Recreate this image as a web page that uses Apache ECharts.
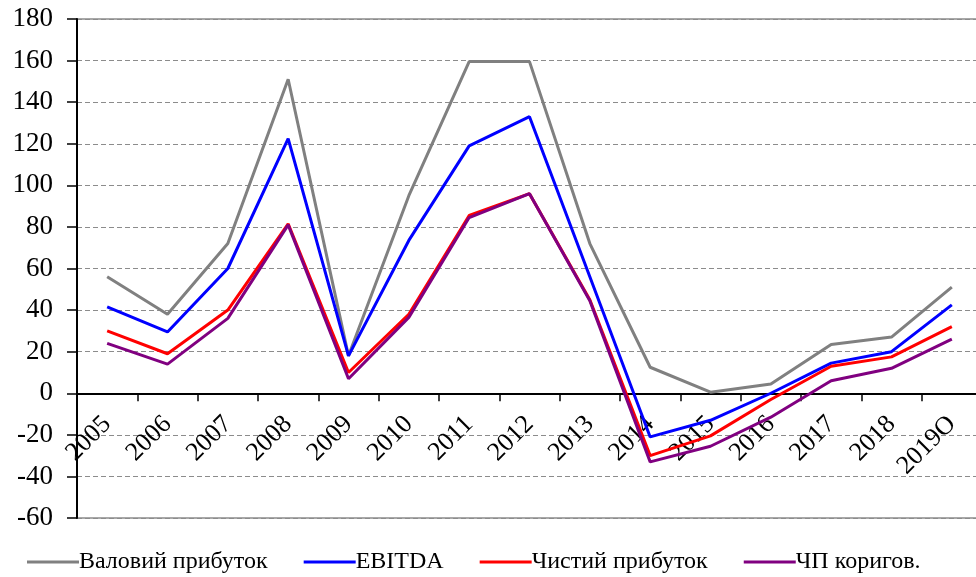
<!DOCTYPE html>
<html>
<head>
<meta charset="utf-8">
<script src="https://cdn.jsdelivr.net/npm/echarts@6/dist/echarts.min.js"></script>
<style>
  html, body { margin: 0; padding: 0; background: #fff; }
  #chart { width: 976px; height: 577px; }
</style>
</head>
<body>
<div id="chart"></div>
<script>
var years = ['2005', '2006', '2007', '2008', '2009', '2010', '2011', '2012', '2013',
    '2014', '2015', '2016', '2017', '2018', '2019O'];
var grossProfit = [56, 38, 72, 151, 18, 95, 159.5, 159.5, 72, 12.5, 0.5, 4.5, 23.5, 27, 51];
var ebitda = [41.5, 29.5, 60, 122.5, 18, 73.5, 119, 133, 56, -21, -13, 0, 14.5, 20, 42.5];
var netProfit = [30, 19, 40, 81.5, 10, 38, 85.5, 96, 45, -30, -20.5, -3, 13, 17.5, 32];
var netAdjusted = [24, 14, 36, 81, 7, 36.5, 84.5, 96, 44.5, -33, -25.5, -11.5, 6, 12, 26];

var seriesNames = ['Валовий прибуток', 'EBITDA', 'Чистий прибуток', 'ЧП коригов.'];
var colors = ['#808080', '#0000FF', '#FF0000', '#800080'];

var chartDom = document.getElementById('chart');
var myChart = echarts.init(chartDom);
var option;
var serif = '"Liberation Serif", "Times New Roman", serif';

// grid geometry: y range -60..180 over 499px, zero line sits 60/240 up from bottom
var gridTop = 19, gridHeight = 499;
var zeroOffset = gridHeight * 60 / 240;

function lineSeries(i, data) {
    return {
        name: seriesNames[i],
        type: 'line',
        data: data,
        symbol: 'none',
        smooth: false,
        lineStyle: { width: 3, color: colors[i] },
        itemStyle: { color: colors[i] }
    };
}

option = {
    animation: false,
    backgroundColor: '#fff',
    color: colors,
    grid: {
        left: 77,
        top: gridTop,
        width: 905,
        height: gridHeight,
        show: true,
        borderColor: '#8c8c8c',
        borderWidth: 1.5,
        outerBoundsMode: 'none',
        containLabel: false
    },
    legend: {
        data: seriesNames,
        left: 22,
        top: 545,
        icon: 'rect',
        itemWidth: 52,
        itemHeight: 3,
        itemGap: 36,
        textStyle: { fontFamily: serif, fontSize: 24, color: '#000', padding: [0, 0, 0, -5] }
    },
    xAxis: {
        type: 'category',
        data: years,
        position: 'bottom',
        offset: -zeroOffset,
        boundaryGap: true,
        axisLine: { onZero: false, lineStyle: { color: '#000', width: 2 } },
        axisTick: { show: true, length: 8, lineStyle: { color: '#000', width: 1.5 } },
        axisLabel: {
            rotate: 45,
            margin: 27,
            interval: 0,
            fontFamily: serif,
            fontSize: 26,
            color: '#000'
        },
        splitLine: { show: false }
    },
    yAxis: {
        type: 'value',
        min: -60,
        max: 180,
        interval: 20,
        axisLine: { show: true, lineStyle: { color: '#000', width: 2 } },
        axisTick: { show: true, length: 10, lineStyle: { color: '#000', width: 1.5 } },
        axisLabel: { margin: 24, fontFamily: serif, fontSize: 27, color: '#000' },
        splitLine: { show: true, lineStyle: { color: '#8c8c8c', type: [5, 3], width: 1 } }
    },
    series: [
        lineSeries(0, grossProfit),
        lineSeries(1, ebitda),
        lineSeries(2, netProfit),
        lineSeries(3, netAdjusted)
    ]
};
option && myChart.setOption(option);
</script>
</body>
</html>
